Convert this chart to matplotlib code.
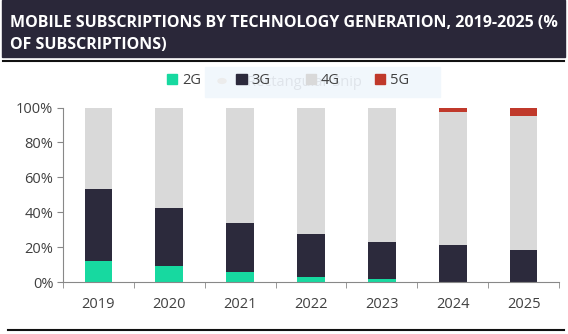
import matplotlib.pyplot as plt
from matplotlib.patches import Rectangle, Circle
from matplotlib.lines import Line2D
from matplotlib.ticker import FixedLocator

plt.rcParams['font.family'] = ['Open Sans', 'DejaVu Sans']

# share of subscriptions (%)
years = ['2019', '2020', '2021', '2022', '2023', '2024', '2025']
g2 = [12, 9, 5.5, 3, 1.5, 0, 0]
g3 = [41.5, 33.5, 28.5, 24.5, 21.5, 21, 18.5]
g5 = [0, 0, 0, 0, 0.5, 2.5, 5]
g4 = [100 - a - b - c for a, b, c in zip(g2, g3, g5)]

colors = {'2G': '#17d9a0', '3G': '#2c2a3c', '4G': '#d9d9d9', '5G': '#c0392b'}

fig = plt.figure(figsize=(5.68, 3.34), dpi=100)
W, H = 568, 334

# title banner
fig.patches.append(Rectangle((2 / W, 1 - 57 / H), 563 / W, 57 / H,
                             transform=fig.transFigure, color='#2a2739', zorder=0))
title_font = dict(color='white', fontsize=11.5, fontweight='bold', va='center',
                  family=['Open Sans', 'DejaVu Sans'])
fig.text(10 / W, 1 - 23 / H, 'MOBILE SUBSCRIPTIONS BY TECHNOLOGY GENERATION, 2019-2025 (%',
         **title_font)
fig.text(10 / W, 1 - 45 / H, 'OF SUBSCRIPTIONS)', **title_font)
fig.lines.append(Line2D([3 / W, 564 / W], [1 - 61 / H] * 2, transform=fig.transFigure,
                        color='#111111', lw=1.5))
fig.lines.append(Line2D([8 / W, 564 / W], [1 - 330 / H] * 2, transform=fig.transFigure,
                        color='#111111', lw=1.5))

# snipping-tool hint behind the legend
fig.patches.append(Rectangle((205 / W, 1 - 97 / H), 235 / W, 30 / H,
                             transform=fig.transFigure, color='#f1f7fc', zorder=0))
fig.patches.append(Circle((222 / W, 1 - 81 / H), 4 / W, transform=fig.transFigure,
                          color='#ececec', zorder=1))
fig.text(247 / W, 1 - 82 / H, 'Rectangular Snip', color='#dfe4ea', fontsize=10.5,
         va='center', zorder=1)

ax = fig.add_axes([63 / W, 1 - 282 / H, 496 / W, 174.5 / H])
x = range(len(years))
w = 0.39
ax.bar(x, g2, w, color=colors['2G'], label='2G')
ax.bar(x, g3, w, bottom=g2, color=colors['3G'], label='3G')
b4 = [a + b for a, b in zip(g2, g3)]
ax.bar(x, g4, w, bottom=b4, color=colors['4G'], label='4G')
b5 = [a + b for a, b in zip(b4, g4)]
ax.bar(x, g5, w, bottom=b5, color=colors['5G'], label='5G')

ax.set_xlim(-0.5, 6.5)
ax.set_ylim(0, 100)
ax.set_yticks([0, 20, 40, 60, 80, 100])
ax.set_yticklabels([f'{v}%' for v in [0, 20, 40, 60, 80, 100]])
ax.set_xticks(list(x))
ax.set_xticklabels(years)
ax.xaxis.set_minor_locator(FixedLocator([i - 0.5 for i in range(8)]))
ax.tick_params(axis='x', which='major', length=0, pad=11, labelsize=10.5, colors='#404040')
ax.tick_params(axis='x', which='minor', length=4, color='#888888', direction='out')
ax.tick_params(axis='y', length=4, color='#888888', labelsize=10.5, labelcolor='#404040', pad=3)
for s in ['top', 'right']:
    ax.spines[s].set_visible(False)
for s in ['left', 'bottom']:
    ax.spines[s].set_color('#888888')
    ax.spines[s].set_linewidth(0.8)

handles = [Rectangle((0, 0), 1, 1, color=colors[k]) for k in colors]
fig.legend(handles, list(colors), loc='center', bbox_to_anchor=(288 / W, 1 - 81 / H),
           ncol=4, frameon=False, fontsize=10.5, handlelength=0.7, handleheight=0.7,
           handletextpad=0.3, columnspacing=2.45, labelcolor='#404040')

fig.savefig('out.png', dpi=100)
